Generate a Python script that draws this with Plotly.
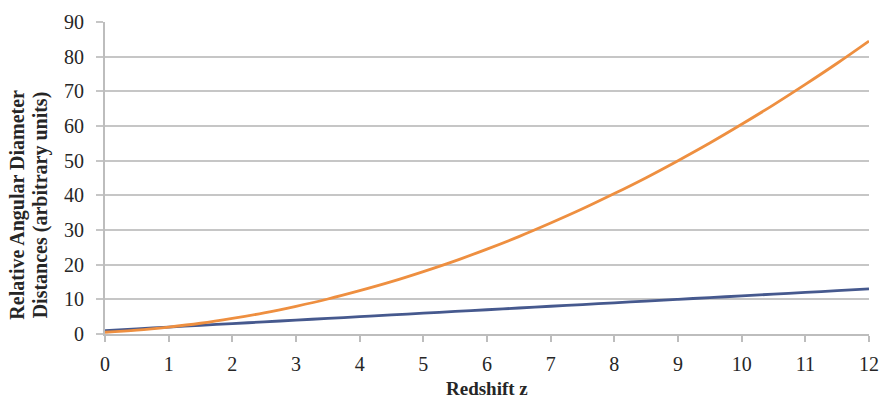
import plotly.graph_objects as go

# Redshift samples
redshift = [0, 0.5, 1, 1.5, 2, 2.5, 3, 3.5, 4, 4.5, 5, 5.5, 6, 6.5, 7, 7.5,
            8, 8.5, 9, 9.5, 10, 10.5, 11, 11.5, 12]
# Relative angular diameter distances for the two models
orange_dist = [0.5, 1.1, 2.0, 3.1, 4.5, 6.1, 8.0, 10.1, 12.5, 15.1, 18.0, 21.1,
               24.5, 28.1, 32.0, 36.1, 40.5, 45.1, 50.0, 55.1, 60.5, 66.1,
               72.0, 78.1, 84.5]
blue_dist = [1.0, 1.5, 2.0, 2.5, 3.0, 3.5, 4.0, 4.5, 5.0, 5.5, 6.0, 6.5, 7.0,
             7.5, 8.0, 8.5, 9.0, 9.5, 10.0, 10.5, 11.0, 11.5, 12.0, 12.5, 13.0]

x_ticks = list(range(0, 13))
y_ticks = list(range(0, 91, 10))

x_title = "Redshift z"
y_title_lines = ["Relative Angular Diameter", "Distances (arbitrary units)"]

SERIF = "Liberation Serif, Times New Roman, serif"
TEXT = "#262626"

fig = go.Figure()
fig.add_trace(go.Scatter(x=redshift, y=blue_dist, mode="lines",
                         line=dict(color="#46598E", width=2.8, shape="spline"),
                         showlegend=False))
fig.add_trace(go.Scatter(x=redshift, y=orange_dist, mode="lines",
                         line=dict(color="#EE8F40", width=2.8, shape="spline"),
                         showlegend=False))

fig.update_layout(
    width=881, height=401,
    margin=dict(l=105, r=12, t=22, b=67),
    paper_bgcolor="white", plot_bgcolor="white",
    font=dict(family=SERIF, size=20, color=TEXT),
    xaxis=dict(
        range=[0, 12], tickvals=x_ticks, ticktext=[str(v) for v in x_ticks],
        showgrid=False, zeroline=False, automargin=False,
        showline=True, linecolor="#BDBDBD", linewidth=1.8,
        ticks="outside", ticklen=6, tickcolor="#BDBDBD", tickwidth=1.5,
        ticklabelstandoff=5,
        tickfont=dict(family=SERIF, size=20, color=TEXT),
    ),
    yaxis=dict(
        range=[0, 90], tickvals=y_ticks, ticktext=[str(v) for v in y_ticks],
        showgrid=True, gridcolor="#C6C6C6", gridwidth=2,
        zeroline=False, automargin=False,
        showline=True, linecolor="#BDBDBD", linewidth=1.8,
        ticks="outside", ticklen=7, tickcolor="#C6C6C6", tickwidth=2,
        ticklabelstandoff=8,
        tickfont=dict(family=SERIF, size=20, color=TEXT),
    ),
)

# Axis titles placed as annotations (paper coords relative to the plot area)
fig.add_annotation(text=f"<b>{x_title}</b>", xref="paper", yref="paper",
                   x=0.50, y=-0.2147, xanchor="center", yanchor="bottom",
                   showarrow=False,
                   font=dict(family=SERIF, size=19, color=TEXT))
for xp, line in zip([-0.115, -0.084], y_title_lines):
    fig.add_annotation(text=f"<b>{line}</b>", xref="paper", yref="paper",
                       x=xp, y=0.415, xanchor="center", yanchor="middle",
                       textangle=-90, showarrow=False,
                       font=dict(family=SERIF, size=20, color=TEXT))

fig.write_html("out.html")
